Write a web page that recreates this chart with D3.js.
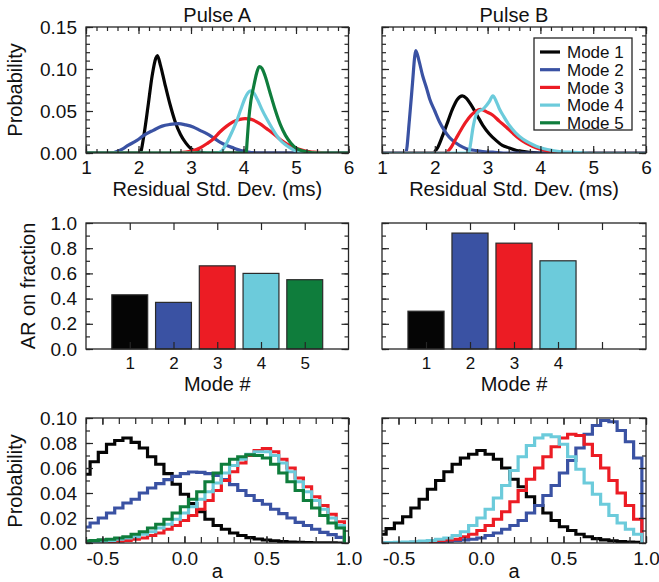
<!DOCTYPE html>
<html>
<head>
<meta charset="utf-8">
<script src="https://cdn.jsdelivr.net/npm/d3@7"></script>
<style>
  body { margin: 0; background: #fff; }
  svg text { font-family: "Liberation Sans", Arial, sans-serif; }
</style>
</head>
<body>
<svg id="chart" width="659" height="582"></svg>
<script>
// ---- data ----
const modes = ["Mode 1", "Mode 2", "Mode 3", "Mode 4", "Mode 5"];
const colors = ["#050505", "#3a52a3", "#ec1c24", "#6ccbdb", "#0f7d3c"];

// residual std. dev. (ms) vs probability, pulse A
const residA1 = [[1, 0], [2.03, 0], [2.1, 0.02], [2.18, 0.055], [2.26, 0.092], [2.33, 0.113], [2.36, 0.116], [2.42, 0.104], [2.5, 0.083], [2.6, 0.058], [2.7, 0.037], [2.8, 0.022], [2.9, 0.012], [3.0, 0.005], [3.1, 0.002], [3.3, 0], [6, 0]];
const residA2 = [[1, 0], [1.5, 0], [1.6, 0.002], [1.7, 0.005], [1.8, 0.009], [1.97, 0.015], [2.1, 0.021], [2.28, 0.027], [2.45, 0.032], [2.6, 0.034], [2.76, 0.035], [2.9, 0.0335], [3.04, 0.031], [3.17, 0.027], [3.3, 0.023], [3.43, 0.018], [3.55, 0.013], [3.68, 0.009], [3.81, 0.006], [3.95, 0.003], [4.06, 0.0015], [4.3, 0], [6, 0]];
const residA3 = [[1, 0], [2.7, 0], [2.9, 0.001], [3.05, 0.003], [3.17, 0.006], [3.3, 0.011], [3.43, 0.017], [3.55, 0.025], [3.68, 0.032], [3.8, 0.037], [3.93, 0.04], [4.03, 0.041], [4.15, 0.04], [4.31, 0.035], [4.44, 0.029], [4.57, 0.023], [4.7, 0.016], [4.82, 0.011], [4.95, 0.007], [5.08, 0.004], [5.2, 0.002], [5.33, 0.001], [5.6, 0], [6, 0]];
const residA4 = [[1, 0], [3.5, 0], [3.58, 0.002], [3.68, 0.012], [3.78, 0.025], [3.87, 0.038], [3.95, 0.052], [4.02, 0.064], [4.09, 0.072], [4.14, 0.074], [4.2, 0.071], [4.27, 0.063], [4.35, 0.052], [4.44, 0.041], [4.54, 0.03], [4.63, 0.021], [4.72, 0.014], [4.82, 0.009], [4.92, 0.005], [5.01, 0.002], [5.15, 0.0005], [5.3, 0], [6, 0]];
const residA5 = [[1, 0], [4.05, 0], [4.07, 0.015], [4.1, 0.04], [4.14, 0.062], [4.19, 0.078], [4.25, 0.095], [4.3, 0.103], [4.35, 0.101], [4.41, 0.092], [4.5, 0.073], [4.6, 0.052], [4.7, 0.034], [4.8, 0.021], [4.9, 0.012], [5.0, 0.006], [5.1, 0.003], [5.2, 0.0015], [5.4, 0], [6, 0]];

// pulse B (no mode 5)
const residB1 = [[1, 0], [1.95, 0], [2.05, 0.006], [2.15, 0.021], [2.25, 0.038], [2.34, 0.053], [2.43, 0.064], [2.52, 0.068], [2.6, 0.065], [2.69, 0.057], [2.8, 0.045], [2.91, 0.033], [3.03, 0.023], [3.16, 0.015], [3.28, 0.009], [3.41, 0.006], [3.55, 0.003], [3.66, 0.002], [4.0, 0], [6, 0]];
const residB2 = [[1, 0], [1.45, 0], [1.52, 0.04], [1.58, 0.085], [1.62, 0.115], [1.64, 0.122], [1.7, 0.11], [1.77, 0.092], [1.84, 0.078], [1.9, 0.065], [2.0, 0.05], [2.09, 0.037], [2.18, 0.027], [2.27, 0.019], [2.4, 0.012], [2.53, 0.007], [2.65, 0.004], [2.78, 0.003], [2.95, 0.0015], [3.1, 0.001], [3.3, 0], [6, 0]];
const residB3 = [[1, 0], [2.2, 0], [2.3, 0.006], [2.4, 0.017], [2.5, 0.028], [2.59, 0.037], [2.69, 0.045], [2.78, 0.05], [2.87, 0.052], [2.98, 0.049], [3.1, 0.045], [3.22, 0.038], [3.35, 0.031], [3.47, 0.024], [3.6, 0.017], [3.72, 0.012], [3.85, 0.008], [3.97, 0.005], [4.1, 0.003], [4.3, 0], [6, 0]];
const residB4 = [[1, 0], [2.64, 0], [2.68, 0.012], [2.72, 0.029], [2.78, 0.045], [2.84, 0.05], [2.91, 0.052], [2.97, 0.056], [3.03, 0.061], [3.1, 0.068], [3.16, 0.062], [3.22, 0.053], [3.31, 0.043], [3.41, 0.033], [3.53, 0.024], [3.66, 0.017], [3.79, 0.012], [3.92, 0.008], [4.07, 0.005], [4.23, 0.003], [4.4, 0.0015], [4.55, 0.001], [5.0, 0], [6, 0]];

// AR on fraction per mode
const modeNums = [1, 2, 3, 4, 5];
const arA = [0.43, 0.37, 0.66, 0.60, 0.55];
const arB = [0.30, 0.92, 0.84, 0.70];

// histogram of a, bin centres (width 0.05)
const aBins = [-0.60, -0.55, -0.50, -0.45, -0.40, -0.35, -0.30, -0.25, -0.20, -0.15, -0.10, -0.05, 0.00, 0.05, 0.10, 0.15,
  0.20, 0.25, 0.30, 0.35, 0.40, 0.45, 0.50, 0.55, 0.60, 0.65, 0.70, 0.75, 0.80, 0.85, 0.90, 0.95];
const histA1 = [0.055, 0.065, 0.0725, 0.079, 0.082, 0.084, 0.0805, 0.076, 0.069, 0.063, 0.0555, 0.047, 0.039, 0.0315, 0.025, 0.019, 0.014, 0.011, 0.008, 0.006, 0.0043, 0.0032, 0.0024, 0.0018, 0.0012, 0.0008, 0.0005, 0.0003, 0.0002, 0.0001, 0.0001, 0];
const histA2 = [0.0128, 0.016, 0.02, 0.024, 0.028, 0.032, 0.035, 0.04, 0.044, 0.0475, 0.0507, 0.0533, 0.0555, 0.0568, 0.0565, 0.0555, 0.054, 0.0507, 0.0467, 0.042, 0.038, 0.034, 0.031, 0.027, 0.0235, 0.02, 0.0165, 0.014, 0.011, 0.0085, 0.0067, 0.0045];
const histA3 = [0, 0.0003, 0.0006, 0.001, 0.0015, 0.002, 0.003, 0.004, 0.006, 0.008, 0.011, 0.014, 0.018, 0.022, 0.027, 0.034, 0.042, 0.05, 0.057, 0.064, 0.07, 0.074, 0.0755, 0.073, 0.067, 0.06, 0.052, 0.045, 0.037, 0.03, 0.023, 0.017];
const histA4 = [0.0005, 0.001, 0.0015, 0.002, 0.003, 0.004, 0.005, 0.007, 0.009, 0.012, 0.015, 0.019, 0.024, 0.029, 0.035, 0.041, 0.048, 0.056, 0.062, 0.067, 0.071, 0.073, 0.073, 0.07, 0.064, 0.057, 0.049, 0.041, 0.034, 0.027, 0.02, 0.014];
const histA5 = [0.0015, 0.002, 0.0025, 0.003, 0.004, 0.005, 0.007, 0.009, 0.012, 0.015, 0.019, 0.024, 0.029, 0.035, 0.041, 0.049, 0.056, 0.063, 0.067, 0.069, 0.0705, 0.07, 0.068, 0.063, 0.056, 0.049, 0.042, 0.034, 0.028, 0.022, 0.016, 0.012];
const histB1 = [0.007, 0.0115, 0.016, 0.021, 0.028, 0.035, 0.043, 0.05, 0.057, 0.063, 0.068, 0.071, 0.074, 0.071, 0.067, 0.06, 0.051, 0.045, 0.037, 0.03, 0.024, 0.018, 0.013, 0.01, 0.007, 0.005, 0.0035, 0.0025, 0.0018, 0.0012, 0.0008, 0.0005];
const histB2 = [0, 0, 0, 0.0002, 0.0003, 0.0005, 0.0007, 0.001, 0.0015, 0.002, 0.0025, 0.003, 0.004, 0.006, 0.008, 0.011, 0.014, 0.018, 0.024, 0.03, 0.038, 0.046, 0.056, 0.066, 0.076, 0.087, 0.094, 0.098, 0.097, 0.09, 0.081, 0.068];
const histB3 = [0, 0, 0.0002, 0.0004, 0.0006, 0.001, 0.0013, 0.002, 0.0025, 0.003, 0.005, 0.007, 0.01, 0.014, 0.019, 0.025, 0.033, 0.042, 0.051, 0.06, 0.069, 0.077, 0.084, 0.087, 0.086, 0.079, 0.07, 0.06, 0.05, 0.04, 0.03, 0.019];
const histB4 = [0.0002, 0.0003, 0.0005, 0.0008, 0.001, 0.0015, 0.002, 0.003, 0.004, 0.006, 0.009, 0.014, 0.02, 0.027, 0.036, 0.046, 0.058, 0.069, 0.078, 0.084, 0.0865, 0.085, 0.079, 0.069, 0.059, 0.048, 0.039, 0.031, 0.022, 0.016, 0.011, 0.007];

// ---- layout ----
const svg = d3.select("#chart");
const ink = "#262626";
const TICK_FONT = 19;
const LABEL_FONT = 20;
const cols = [[86, 348.5], [382, 646]];
const rows = [[153, 27], [349, 223], [543, 418]];
const binW = 0.05;

function addAxis(g, axisFn, scale, tr, values, len, fmt, pad, size) {
  const ax = axisFn(scale).tickValues(values).tickSize(-len)
    .tickPadding(pad || 0).tickFormat(fmt || (() => ""));
  const sel = g.append("g").attr("transform", tr).call(ax)
    .attr("font-family", null).attr("font-size", size || TICK_FONT);
  sel.select(".domain").remove();
  sel.selectAll("line").attr("stroke", ink).attr("stroke-width", 1.2);
  sel.selectAll("text").attr("fill", "#111");
  return sel;
}

// inward ticks on all four sides plus the frame
function frame(x, y, s, showY) {
  const g = svg.append("g");
  const [x0, x1] = x.range(), [yb, yt] = y.range();
  addAxis(g, d3.axisBottom, x, `translate(0,${yb})`, s.xMajor, 7, s.xFmt, s.xPad, s.xSize);
  addAxis(g, d3.axisBottom, x, `translate(0,${yb})`, s.xMinor, s.xMinorLen);
  addAxis(g, d3.axisTop, x, `translate(0,${yt})`, s.xMajor, 7);
  addAxis(g, d3.axisTop, x, `translate(0,${yt})`, s.xMinor, s.xMinorLen);
  addAxis(g, d3.axisLeft, y, `translate(${x0},0)`, s.yMajor, 7, showY ? s.yFmt : null, 9);
  addAxis(g, d3.axisLeft, y, `translate(${x0},0)`, s.yMinor, 4);
  addAxis(g, d3.axisRight, y, `translate(${x1},0)`, s.yMajor, 7);
  addAxis(g, d3.axisRight, y, `translate(${x1},0)`, s.yMinor, 4);
  g.append("rect").attr("x", x0).attr("y", yt).attr("width", x1 - x0).attr("height", yb - yt)
    .attr("fill", "none").attr("stroke", ink).attr("stroke-width", 1.3);
}

function clipFor(id, x, y) {
  const [x0, x1] = x.range(), [yb, yt] = y.range();
  svg.append("clipPath").attr("id", id).append("rect")
    .attr("x", x0).attr("y", yt - 2).attr("width", x1 - x0).attr("height", yb - yt + 2);
  return `url(#${id})`;
}

const fmt2 = d => d.toFixed(2);
const fmt1 = d => d.toFixed(1);

// ---- row 1: residual std. dev. curves ----
const residSpec = {
  xMajor: [1, 2, 3, 4, 5, 6], xMinor: d3.range(1, 6.01, 0.2), xMinorLen: 4, xFmt: d3.format("d"), xPad: 8,
  yMajor: [0, 0.05, 0.1, 0.15], yMinor: d3.range(0, 0.1501, 0.01), yFmt: fmt2
};
[[residA1, residA2, residA3, residA4, residA5], [residB1, residB2, residB3, residB4]].forEach((set, c) => {
  const x = d3.scaleLinear().domain([1, 6]).range(cols[c]);
  const y = d3.scaleLinear().domain([0, 0.15]).range(rows[0]);
  const line = d3.line().x(d => x(d[0])).y(d => y(d[1])).curve(d3.curveMonotoneX);
  const cp = clipFor("clipR" + c, x, y);
  svg.append("g").attr("clip-path", cp).selectAll("path").data(set).join("path")
    .attr("d", line).attr("fill", "none")
    .attr("stroke", (d, i) => colors[i]).attr("stroke-width", 3.2).attr("stroke-linejoin", "round");
  frame(x, y, residSpec, c === 0);
});

// ---- row 2: AR on fraction bars ----
const barSpec = {
  xMajor: [1, 2, 3, 4, 5], xMinor: [], xMinorLen: 0, xFmt: d3.format("d"), xPad: 8, xSize: 17,
  yMajor: [0, 0.2, 0.4, 0.6, 0.8, 1.0], yMinor: d3.range(0, 1.001, 0.1), yFmt: fmt1
};
[arA, arB].forEach((vals, c) => {
  const x = d3.scaleLinear().domain([0, 6]).range(cols[c]);
  const y = d3.scaleLinear().domain([0, 1]).range(rows[1]);
  const bw = x(0.82) - x(0);
  svg.append("g").selectAll("rect").data(vals).join("rect")
    .attr("x", (d, i) => x(modeNums[i]) - bw / 2).attr("width", bw)
    .attr("y", d => y(d)).attr("height", d => y(0) - y(d))
    .attr("fill", (d, i) => colors[i]).attr("stroke", "#2a2a2a").attr("stroke-width", 1.2);
  const spec = Object.assign({}, barSpec, c === 1 ? { xFmt: d => (d < 5 ? d : "") } : {});
  frame(x, y, spec, c === 0);
});

// ---- row 3: histograms of a ----
const histSpec = {
  xMajor: [-0.5, 0, 0.5, 1.0], xMinor: d3.range(-0.6, 1.001, 0.1), xMinorLen: 6, xFmt: fmt1, xPad: 9,
  yMajor: [0, 0.02, 0.04, 0.06, 0.08, 0.1], yMinor: d3.range(0, 0.1001, 0.01), yFmt: fmt2
};
[[histA1, histA2, histA3, histA4, histA5], [histB1, histB2, histB3, histB4]].forEach((set, c) => {
  const x = d3.scaleLinear().domain([-0.6, 1.0]).range(cols[c]);
  const y = d3.scaleLinear().domain([0, 0.1]).range(rows[2]);
  const step = d3.line().x(d => x(d[0])).y(d => y(d[1])).curve(d3.curveStepAfter);
  const toSteps = vals => aBins.map((b, i) => [b - binW / 2, vals[i]])
    .concat([[aBins[aBins.length - 1] + binW / 2, 0]]);
  const cp = clipFor("clipH" + c, x, y);
  svg.append("g").attr("clip-path", cp).selectAll("path").data(set).join("path")
    .attr("d", d => step(toSteps(d))).attr("fill", "none")
    .attr("stroke", (d, i) => colors[i]).attr("stroke-width", 3.2).attr("stroke-linejoin", "miter");
  frame(x, y, histSpec, c === 0);
});

// ---- titles, axis labels ----
const label = (txt, x, y, rot, size) => svg.append("text").text(txt)
  .attr("transform", `translate(${x},${y})` + (rot ? " rotate(-90)" : ""))
  .attr("text-anchor", "middle").attr("font-size", size || LABEL_FONT).attr("fill", "#111");
const midA = (cols[0][0] + cols[0][1]) / 2, midB = (cols[1][0] + cols[1][1]) / 2;
label("Pulse A", midA, 22);
label("Pulse B", midB, 22);
label("Residual Std. Dev. (ms)", midA, 196);
label("Residual Std. Dev. (ms)", midB, 196);
label("Mode #", midA, 391);
label("Mode #", midB, 391);
label("a", midA, 578);
label("a", midB, 578);
label("Probability", 22, 90, true);
label("AR on fraction", 35, 286, true);
label("Probability", 22, 481, true);

// ---- legend ----
const leg = svg.append("g").attr("transform", "translate(534,38)");
leg.append("rect").attr("width", 98).attr("height", 92)
  .attr("fill", "#fff").attr("stroke", ink).attr("stroke-width", 1.3);
const items = leg.selectAll("g").data(modes).join("g")
  .attr("transform", (d, i) => `translate(0,${14 + i * 17.7})`);
items.append("line").attr("x1", 6).attr("x2", 26)
  .attr("stroke", (d, i) => colors[i]).attr("stroke-width", 3.2);
items.append("text").text(d => d).attr("x", 33).attr("dy", "0.36em")
  .attr("font-size", 17).attr("fill", "#111");
</script>
</body>
</html>
